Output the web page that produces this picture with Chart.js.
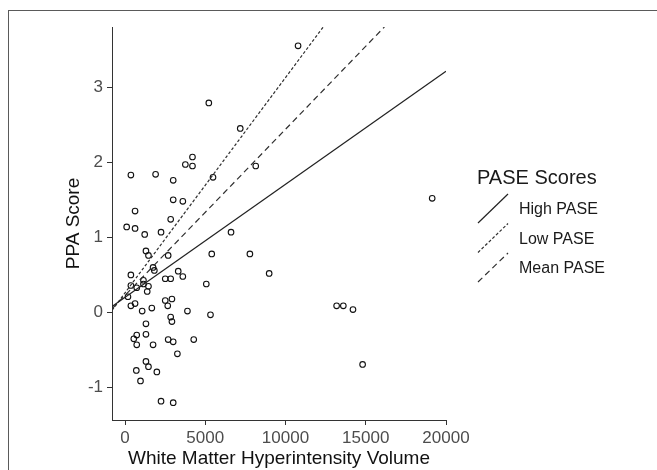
<!DOCTYPE html>
<html>
<head>
<meta charset="utf-8">
<script src="https://cdn.jsdelivr.net/npm/chart.js@4.4.0/dist/chart.umd.min.js"></script>
<style>
  html, body { margin: 0; padding: 0; background: #fff; }
  #wrap { position: relative; width: 657px; height: 470px; overflow: hidden; }
  #frame { position: absolute; left: 8px; top: 10px; width: 700px; height: 500px;
           border-top: 1.5px solid #5a5a5a; border-left: 1.5px solid #5a5a5a; }
  canvas { position: absolute; left: 0; top: 0; }
</style>
</head>
<body>
<div id="wrap">
  <div id="frame"></div>
  <canvas id="chart" width="657" height="470"></canvas>
</div>
<script>
// scatter points
const wmhVolume = [10783, 5222, 7180, 4204, 3760, 4204, 8146, 366, 1906, 5483, 3003, 3003, 3603, 19139,
  627, 2846, 104, 627, 2245, 1227, 6606, 1305, 1462, 2689, 5405, 7781, 1749, 1828, 3316, 3603,
  8982, 366, 2507, 2846, 1149, 5065, 1149, 366, 1462, 731, 1384, 183, 2507, 2924, 627, 366,
  2663, 13185, 13603, 14204, 1671, 1070, 3890, 5326, 2846, 2924, 1305, 1305, 731, 548, 731,
  1749, 2689, 3003, 4282, 3264, 1305, 1462, 705, 1984, 966, 14804, 2245, 3003];
const ppaScore = [3.55, 2.79, 2.45, 2.07, 1.97, 1.95, 1.95, 1.83, 1.84, 1.80, 1.76, 1.50, 1.48, 1.52,
  1.35, 1.24, 1.14, 1.12, 1.07, 1.04, 1.07, 0.82, 0.76, 0.76, 0.78, 0.78, 0.60, 0.56, 0.55, 0.48,
  0.52, 0.50, 0.45, 0.45, 0.43, 0.38, 0.38, 0.36, 0.35, 0.33, 0.28, 0.21, 0.16, 0.18, 0.12, 0.09,
  0.09, 0.09, 0.09, 0.04, 0.06, 0.02, 0.02, -0.03, -0.06, -0.12, -0.15, -0.29, -0.30, -0.35, -0.43,
  -0.43, -0.36, -0.39, -0.36, -0.55, -0.65, -0.72, -0.77, -0.79, -0.91, -0.69, -1.18, -1.20];

// fitted lines (end points)
const highPaseX = [-810, 20000];
const highPaseY = [0.08, 3.21];
const lowPaseX = [-810, 12350];
const lowPaseY = [0.03, 3.80];
const meanPaseX = [-810, 16160];
const meanPaseY = [0.05, 3.80];

const seriesLabels = ['High PASE', 'Low PASE', 'Mean PASE'];
const legendTitle = 'PASE Scores';
const xTicks = [0, 5000, 10000, 15000, 20000];
const yTicks = [-1, 0, 1, 2, 3];

const FONT = '"Liberation Sans", Arial, sans-serif';

function pairs(xs, ys) {
  return xs.map((x, i) => ({ x, y: ys[i] }));
}

function lineSet(label, xs, ys, dash, color) {
  return {
    type: 'line', label, data: pairs(xs, ys), showLine: true,
    borderColor: color, borderWidth: 1.2, borderDash: dash,
    pointRadius: 0, fill: false, tension: 0
  };
}

const paseLegend = {
  id: 'paseLegend',
  afterDraw(chart) {
    const ctx = chart.ctx;
    const a = chart.chartArea;
    const left = a.right + 31;
    ctx.save();
    ctx.fillStyle = '#1a1a1a';
    ctx.textBaseline = 'middle';
    ctx.font = '20px ' + FONT;
    ctx.fillText(legendTitle, left, 178);
    ctx.font = '16px ' + FONT;
    chart.data.datasets.filter(d => d.showLine).forEach((d, k) => {
      const yc = 210 + k * 29.5;
      ctx.strokeStyle = d.borderColor;
      ctx.lineWidth = 1.2;
      ctx.setLineDash(d.borderDash);
      ctx.beginPath();
      ctx.moveTo(left + 1, yc + 13);
      ctx.lineTo(left + 31, yc - 16);
      ctx.stroke();
      ctx.setLineDash([]);
      ctx.fillStyle = '#1a1a1a';
      ctx.fillText(d.label, left + 42, yc);
    });
    ctx.restore();
  }
};

new Chart(document.getElementById('chart'), {
  type: 'scatter',
  data: {
    datasets: [
      lineSet(seriesLabels[0], highPaseX, highPaseY, [], '#222'),
      lineSet(seriesLabels[1], lowPaseX, lowPaseY, [3, 2], '#2e2e2e'),
      lineSet(seriesLabels[2], meanPaseX, meanPaseY, [6, 4], '#2e2e2e'),
      {
        label: 'points', data: pairs(wmhVolume, ppaScore),
        pointStyle: 'circle', pointRadius: 2.8, borderWidth: 1.1,
        borderColor: '#111', backgroundColor: 'rgba(0,0,0,0)'
      }
    ]
  },
  options: {
    responsive: false,
    animation: false,
    devicePixelRatio: 1,
    layout: { padding: { top: 27, right: 211, left: 0, bottom: 0 } },
    plugins: { legend: { display: false }, tooltip: { enabled: false } },
    scales: {
      x: {
        type: 'linear', min: -810, max: 20000,
        afterFit: s => { s.height = 50; },
        afterBuildTicks: s => { s.ticks = xTicks.map(v => ({ value: v })); },
        grid: { drawOnChartArea: false, drawTicks: true, tickLength: 5, color: '#333' },
        border: { display: true, color: '#333', width: 1 },
        ticks: { color: '#4d4d4d', font: { family: FONT, size: 17 }, padding: 3, maxRotation: 0,
                 callback: v => String(v) },
        title: { display: true, text: 'White Matter Hyperintensity Volume', color: '#111',
                 font: { family: FONT, size: 19 }, padding: { top: 0, bottom: 0 } }
      },
      y: {
        type: 'linear', min: -1.43, max: 3.8,
        afterFit: s => { s.width = 112; },
        afterBuildTicks: s => { s.ticks = yTicks.map(v => ({ value: v })); },
        grid: { drawOnChartArea: false, drawTicks: true, tickLength: 5, color: '#333' },
        border: { display: true, color: '#333', width: 1 },
        ticks: { color: '#4d4d4d', font: { family: FONT, size: 17 }, padding: 4,
                 callback: v => String(v) },
        title: { display: true, text: 'PPA Score', color: '#111',
                 font: { family: FONT, size: 19 }, padding: { top: 62, bottom: 0 } }
      }
    }
  },
  plugins: [paseLegend]
});
</script>
</body>
</html>
